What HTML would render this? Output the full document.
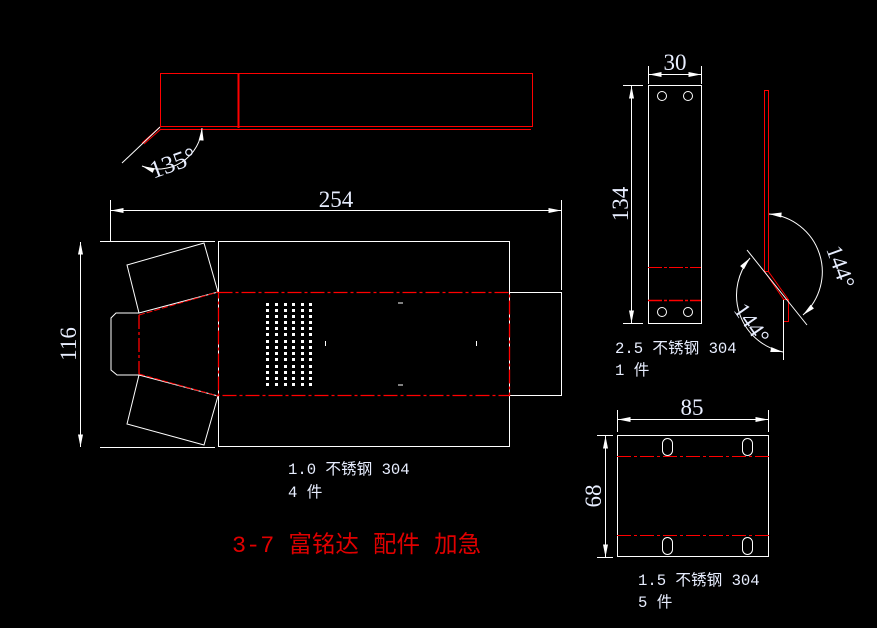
<!DOCTYPE html>
<html><head><meta charset="utf-8"><style>
html,body{margin:0;padding:0;background:#000;}
svg{display:block}
text{font-family:"Liberation Serif","Noto Serif CJK SC",serif;}
.lbl{font-family:"Liberation Mono","Noto Sans CJK SC",monospace;font-size:15.6px;fill:#e8eeff;}
.dim{font-size:23px;fill:#e8eeff;}
</style></head><body>
<svg width="877" height="628" viewBox="0 0 877 628" xmlns="http://www.w3.org/2000/svg">
<defs>
<marker id="a" viewBox="0 0 10 4" refX="10" refY="2" markerWidth="14" markerHeight="5" orient="auto-start-reverse" markerUnits="userSpaceOnUse"><path d="M0,0L10,2L0,4z" fill="#fff"/></marker>
</defs>
<g fill="none" stroke="#fff" stroke-width="1">
<rect x="160.5" y="73.5" width="372" height="53" stroke="#f00"/>
<line x1="238.5" y1="73" x2="238.5" y2="128" stroke="#f00" stroke-width="2"/>
<line x1="160" y1="129.5" x2="531" y2="129.5" stroke="#f00"/>
<path d="M160,127 L142,143 M161,129 L144,144" stroke="#f00"/>
<line x1="160" y1="127" x2="122" y2="163"/>
<path d="M202,128 A44,44 0 0 1 142,166" marker-start="url(#a)" marker-end="url(#a)"/>
<rect x="218.5" y="241.5" width="291" height="205"/>
<rect x="509.5" y="292.5" width="52" height="103"/>
<line x1="100" y1="241.5" x2="215" y2="241.5"/>
<line x1="100" y1="447.5" x2="215" y2="447.5"/>
<line x1="110.5" y1="200" x2="110.5" y2="241"/>
<line x1="561.5" y1="200" x2="561.5" y2="290"/>
<polygon points="127,265 204,243 218,292 139,313"/>
<polygon points="139,375 218,396 204,445 127,424"/>
<polyline points="139,313 116,313 111,318 111,370 117,375 139,375"/>
<g stroke="#f00" stroke-width="1.3" stroke-dasharray="14,3,3,3">
<rect x="218.5" y="292.5" width="291" height="103"/>
<line x1="139" y1="315" x2="139" y2="374"/>
</g>
<line x1="139" y1="315" x2="218" y2="292" stroke="#f00" stroke-dasharray="6,2"/>
<line x1="139" y1="374" x2="218" y2="396" stroke="#f00" stroke-dasharray="6,2"/>
<path d="M398,303h5M398,385h5M325.5,341v5M476.5,341v5"/>
<line x1="111" y1="210.5" x2="561" y2="210.5" marker-start="url(#a)" marker-end="url(#a)"/>
<line x1="80.5" y1="242" x2="80.5" y2="447" marker-start="url(#a)" marker-end="url(#a)"/>
<rect x="648.5" y="85.5" width="53" height="238"/>
<circle cx="662" cy="96" r="4.5"/><circle cx="688" cy="96" r="4.5"/>
<circle cx="662" cy="312" r="4.5"/><circle cx="688" cy="312" r="4.5"/>
<line x1="648" y1="267.5" x2="701" y2="267.5" stroke="#f00" stroke-dasharray="14,2,3,2"/>
<line x1="648" y1="300.5" x2="701" y2="300.5" stroke="#f00" stroke-width="1.5" stroke-dasharray="14,2,3,2"/>
<line x1="648.5" y1="66" x2="648.5" y2="84"/><line x1="701.5" y1="66" x2="701.5" y2="84"/>
<line x1="649" y1="74.5" x2="701" y2="74.5" marker-start="url(#a)" marker-end="url(#a)"/>
<line x1="623" y1="85.5" x2="643" y2="85.5"/><line x1="623" y1="323.5" x2="643" y2="323.5"/>
<line x1="631.5" y1="86" x2="631.5" y2="323" marker-start="url(#a)" marker-end="url(#a)"/>
<rect x="764.5" y="90.5" width="4" height="181" stroke="#f00"/>
<path d="M765,272 L784,300 M768,271 L788,299" stroke="#f00"/>
<rect x="783.5" y="299.5" width="5" height="22" stroke="#f00"/>
<line x1="747" y1="250" x2="807" y2="325"/>
<line x1="783.5" y1="300" x2="783.5" y2="360"/>
<path d="M769,214 A58,58 0 0 1 803,315" marker-start="url(#a)" marker-end="url(#a)"/>
<path d="M750,258 A58,58 0 0 0 783,352" marker-start="url(#a)" marker-end="url(#a)"/>
<rect x="617.5" y="435.5" width="151" height="121"/>
<line x1="617" y1="456.5" x2="769" y2="456.5" stroke="#f00" stroke-dasharray="14,3,3,3"/>
<line x1="617" y1="535.5" x2="769" y2="535.5" stroke="#f00" stroke-dasharray="14,3,3,3"/>
<rect x="662.5" y="438.5" width="10" height="17" rx="5"/><rect x="742.5" y="438.5" width="10" height="17" rx="5"/>
<rect x="662.5" y="537.5" width="10" height="17" rx="5"/><rect x="742.5" y="537.5" width="10" height="17" rx="5"/>
<line x1="617.5" y1="410" x2="617.5" y2="432"/><line x1="768.5" y1="410" x2="768.5" y2="432"/>
<line x1="618" y1="419.5" x2="768" y2="419.5" marker-start="url(#a)" marker-end="url(#a)"/>
<line x1="597" y1="435.5" x2="613" y2="435.5"/><line x1="597" y1="557.5" x2="613" y2="557.5"/>
<line x1="605.5" y1="436" x2="605.5" y2="557" marker-start="url(#a)" marker-end="url(#a)"/>
</g>
<g fill="#fff">
<g id="col">
<rect x="266" y="303" width="3" height="3"/><rect x="266" y="309" width="3" height="3"/><rect x="266" y="315" width="3" height="3"/><rect x="266" y="321" width="3" height="3"/><rect x="266" y="327" width="3" height="3"/><rect x="266" y="333" width="3" height="3"/><rect x="266" y="340" width="3" height="3"/><rect x="266" y="346" width="3" height="3"/><rect x="266" y="352" width="3" height="3"/><rect x="266" y="358" width="3" height="3"/><rect x="266" y="365" width="3" height="3"/><rect x="266" y="371" width="3" height="3"/><rect x="266" y="377" width="3" height="3"/><rect x="266" y="383" width="3" height="3"/>
</g>
<use href="#col" x="9"/><use href="#col" x="18"/><use href="#col" x="26"/><use href="#col" x="35"/><use href="#col" x="43"/>
</g>
<text class="dim" style="font-size:25px" x="148" y="172" transform="rotate(-20 170 160)">135°</text>
<text class="dim" x="336" y="207" text-anchor="middle">254</text>
<text class="dim" transform="translate(76,344) rotate(-90)" text-anchor="middle">116</text>
<text class="dim" x="675" y="70" text-anchor="middle">30</text>
<text class="dim" transform="translate(628,204) rotate(-90)" text-anchor="middle">134</text>
<text class="dim" transform="translate(826,249) rotate(70)">144°</text>
<text class="dim" transform="translate(733,310) rotate(55)">144°</text>
<text class="dim" x="692" y="415" text-anchor="middle">85</text>
<text class="dim" transform="translate(601,496) rotate(-90)" text-anchor="middle">68</text>
<text class="lbl" x="288" y="474">1.0 不锈钢 304</text>
<text class="lbl" x="288" y="497">4 件</text>
<text class="lbl" x="615" y="353">2.5 不锈钢 304</text>
<text class="lbl" x="615" y="375">1 件</text>
<text class="lbl" x="638" y="585">1.5 不锈钢 304</text>
<text class="lbl" x="638" y="607">5 件</text>
<text x="232" y="552" style="font-family:'Liberation Mono','Noto Sans CJK SC',monospace;font-size:23.5px;fill:#e00000">3-7 富铭达 配件 加急</text>
</svg>
</body></html>
